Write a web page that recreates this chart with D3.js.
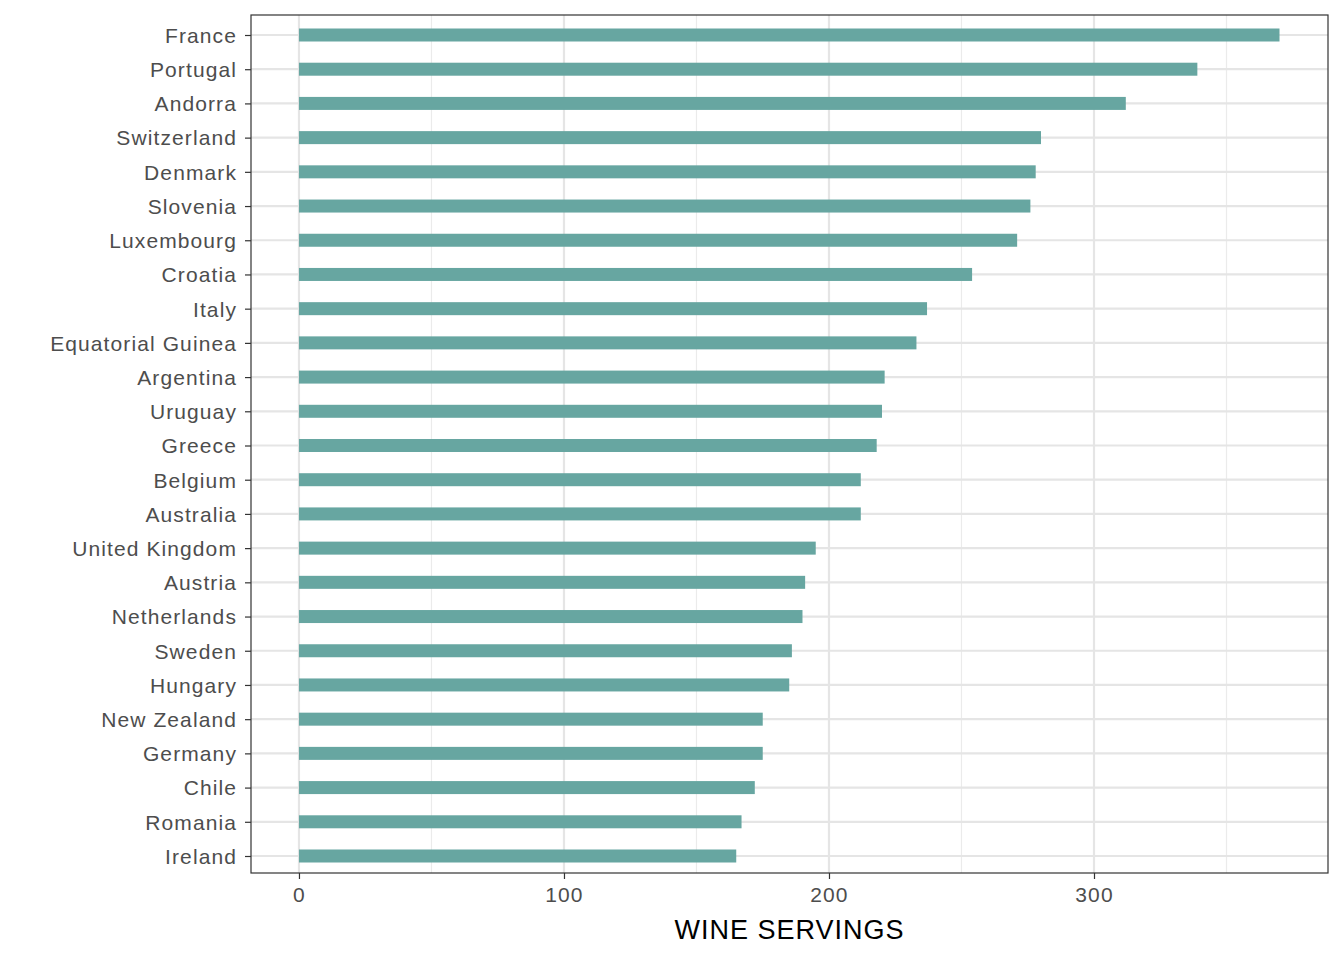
<!DOCTYPE html>
<html><head><meta charset="utf-8">
<script src="https://cdn.jsdelivr.net/npm/d3@7"></script>
<style>body{margin:0;background:#fff}text{font-family:"Liberation Sans",Arial,sans-serif}</style>
</head><body><svg id="c" width="1344" height="960"></svg>
<script>
const countries=["France","Portugal","Andorra","Switzerland","Denmark","Slovenia","Luxembourg","Croatia","Italy","Equatorial Guinea","Argentina","Uruguay","Greece","Belgium","Australia","United Kingdom","Austria","Netherlands","Sweden","Hungary","New Zealand","Germany","Chile","Romania","Ireland"];
const wine=[370,339,312,280,278,276,271,254,237,233,221,220,218,212,212,195,191,190,186,185,175,175,172,167,165];
const xTicks=[0,100,200,300];
const xMinor=[50,150,250,350];
const L=251,R=1328,T=15,B=873;
const svg=d3.select("#c");
const x=d3.scaleLinear().domain([-18.1,388.3]).range([L,R]);
const y=d3.scalePoint().domain(countries).range([35,856]);
const g=svg.append("g");
g.selectAll(".mn").data(xMinor).enter().append("line").attr("x1",d=>x(d)).attr("x2",d=>x(d)).attr("y1",T).attr("y2",B).attr("stroke","#ebebeb").attr("stroke-width",1.2);
g.selectAll(".mj").data(xTicks).enter().append("line").attr("x1",d=>x(d)).attr("x2",d=>x(d)).attr("y1",T).attr("y2",B).attr("stroke","#e5e5e5").attr("stroke-width",2.2);
g.selectAll(".hy").data(countries).enter().append("line").attr("x1",L).attr("x2",R).attr("y1",d=>y(d)).attr("y2",d=>y(d)).attr("stroke","#e5e5e5").attr("stroke-width",2.2);
g.selectAll(".bar").data(countries).enter().append("rect").attr("x",x(0)).attr("y",d=>y(d)-6.5).attr("height",13).attr("width",(d,i)=>x(wine[i])-x(0)).attr("fill","#67a6a1");
svg.append("rect").attr("x",L).attr("y",T).attr("width",R-L).attr("height",B-T).attr("fill","none").attr("stroke","#333").attr("stroke-width",1.2);
const ya=svg.append("g").attr("transform",`translate(${L},0)`).call(d3.axisLeft(y).tickSize(6).tickPadding(8));
const xa=svg.append("g").attr("transform",`translate(0,${B})`).call(d3.axisBottom(x).tickValues(xTicks).tickSize(6).tickPadding(8));
[ya,xa].forEach(a=>{a.select(".domain").remove();a.selectAll("line").attr("stroke","#333").attr("stroke-width",1.2);a.selectAll("text").attr("fill","#4d4d4d").style("font-size","21px").style("letter-spacing","1.1px").style("font-family","Liberation Sans, Arial, sans-serif");});
ya.selectAll("text").attr("dy","0.35em");
svg.append("text").attr("x",(L+R)/2).attr("y",939).attr("text-anchor","middle").style("font-size","27px").style("letter-spacing","1px").attr("fill","#000").text("WINE SERVINGS");
</script></body></html>
